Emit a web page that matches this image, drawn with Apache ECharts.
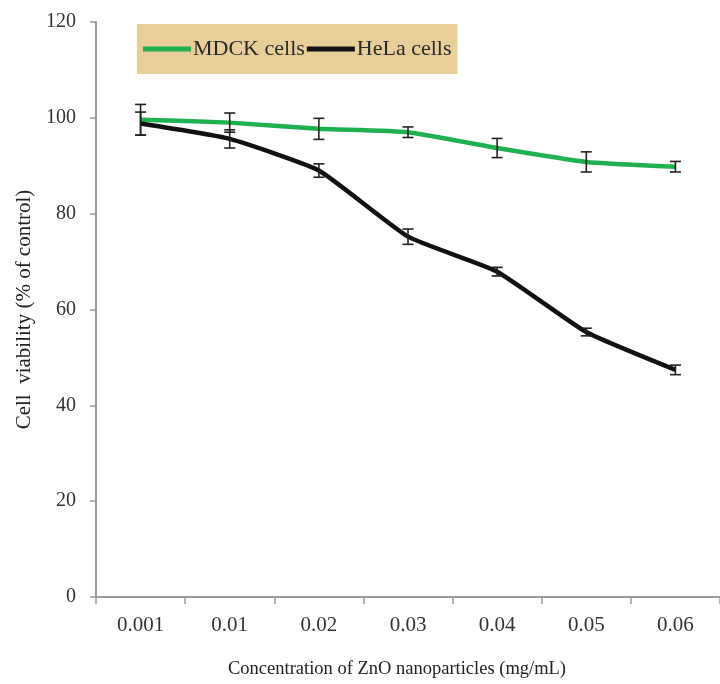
<!DOCTYPE html>
<html><head><meta charset="utf-8">
<script src="https://cdn.jsdelivr.net/npm/echarts@6/dist/echarts.min.js"></script>
<style>html,body{margin:0;padding:0;background:#fff}#c{width:720px;height:684px}</style>
</head><body><div id="c"></div>
<script>
const categories = ['0.001','0.01','0.02','0.03','0.04','0.05','0.06'];
const mdck = [99.6, 99.0, 97.7, 97.0, 93.7, 90.8, 89.8];
const mdckErr = [3.2, 2.0, 2.2, 1.1, 2.0, 2.1, 1.1];
const hela = [98.8, 95.6, 89.0, 75.2, 67.9, 55.3, 47.4];
const helaErr = [2.4, 1.9, 1.4, 1.6, 0.9, 0.8, 1.0];
const yTicks = {min: 0, max: 120, interval: 20};

const font = '"Liberation Serif", "DejaVu Serif", serif';
function errSeries(name, vals, errs) {
  return {
    type: 'custom', name: name + ' err', silent: true, z: 5,
    data: vals.map((v, i) => [i, v - errs[i], v + errs[i]]),
    renderItem: function (params, api) {
      const lo = api.coord([api.value(0), api.value(1)]);
      const hi = api.coord([api.value(0), api.value(2)]);
      const w = 5.5;
      const st = {stroke: '#222', lineWidth: 1.6};
      return {type: 'group', children: [
        {type: 'line', shape: {x1: lo[0], y1: lo[1], x2: hi[0], y2: hi[1]}, style: st},
        {type: 'line', shape: {x1: lo[0]-w, y1: lo[1], x2: lo[0]+w, y2: lo[1]}, style: st},
        {type: 'line', shape: {x1: hi[0]-w, y1: hi[1], x2: hi[0]+w, y2: hi[1]}, style: st}
      ]};
    }
  };
}
const chart = echarts.init(document.getElementById('c'));
chart.setOption({
  animation: false,
  backgroundColor: '#fff',
  grid: {left: 96, top: 22, width: 630, bottom: 86},
  legend: {
    left: 137, top: 24, padding: [14, 6, 14, 6],
    backgroundColor: '#e8cf99',
    itemWidth: 48, itemHeight: 5, itemGap: 2,
    icon: 'rect',
    textStyle: {fontFamily: font, fontSize: 22, color: '#2a2a2a', padding: [0, 0, 0, -3]},
    data: ['MDCK cells', 'HeLa cells']
  },
  xAxis: {
    type: 'category', data: categories, boundaryGap: true,
    name: 'Concentration of ZnO nanoparticles (mg/mL)',
    nameLocation: 'middle', nameGap: 63,
    nameTextStyle: {fontFamily: font, fontSize: 18.5, color: '#222', padding: [0, 22, 0, 0]},
    axisLine: {lineStyle: {color: '#999', width: 2}},
    axisTick: {show: true, length: 7, lineStyle: {color: '#999', width: 1.5}},
    axisLabel: {fontFamily: font, fontSize: 21, color: '#333', margin: 18}
  },
  yAxis: {
    type: 'value', min: yTicks.min, max: yTicks.max, interval: yTicks.interval,
    name: 'Cell  viability (% of control)',
    nameLocation: 'middle', nameGap: 59,
    nameTextStyle: {fontFamily: font, fontSize: 21, color: '#222'},
    axisLine: {show: true, lineStyle: {color: '#999', width: 2}},
    axisTick: {show: true, length: 6, lineStyle: {color: '#999', width: 1.5}},
    splitLine: {show: false},
    axisLabel: {fontFamily: font, fontSize: 20, color: '#333', margin: 20}
  },
  series: [
    {name: 'MDCK cells', type: 'line', data: mdck, smooth: 0.15, symbol: 'none',
     lineStyle: {color: '#1fb050', width: 4.5}, itemStyle: {color: '#1fb050'}, z: 3},
    {name: 'HeLa cells', type: 'line', data: hela, smooth: 0.15, symbol: 'none',
     lineStyle: {color: '#111', width: 4.5}, itemStyle: {color: '#111'}, z: 4},
    errSeries('MDCK cells', mdck, mdckErr),
    errSeries('HeLa cells', hela, helaErr)
  ]
});
</script></body></html>
